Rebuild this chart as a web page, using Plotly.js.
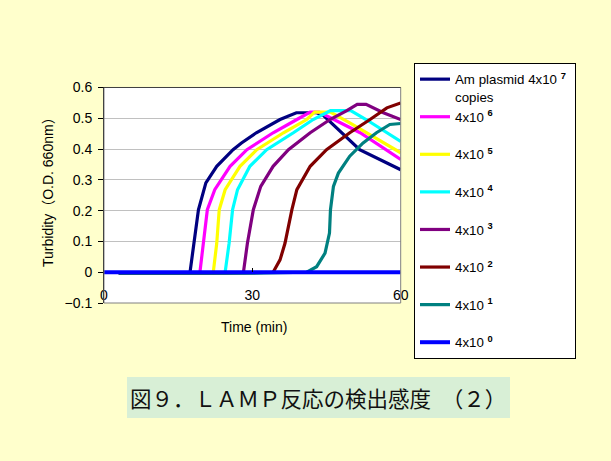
<!DOCTYPE html>
<html><head><meta charset="utf-8">
<script src="https://cdn.plot.ly/plotly-3.0.1.min.js"></script>
<style>html,body{margin:0;padding:0;background:#FFFFCC;}</style>
</head><body>
<div id="chart" style="width:611px;height:461px;"></div>
<script>
var seriesNames = ["Am plasmid 4x10 <sup><b>7</b></sup>&nbsp;<br>copies", "4x10 <sup><b>6</b></sup><br>&nbsp;", "4x10 <sup><b>5</b></sup><br>&nbsp;", "4x10 <sup><b>4</b></sup><br>&nbsp;", "4x10 <sup><b>3</b></sup><br>&nbsp;", "4x10 <sup><b>2</b></sup><br>&nbsp;", "4x10 <sup><b>1</b></sup><br>&nbsp;", "4x10 <sup><b>0</b></sup>"];
var seriesColors = ["#000080", "#FF00FF", "#FFFF00", "#00FFFF", "#800080", "#800000", "#008080", "#0000FF"];

var navyX = [3, 10, 17.4, 18.2, 19.1, 20.6, 22.8, 26.1, 27.8, 30.8, 35.6, 38.9, 43.0, 44.3, 51.7, 60];
var navyY = [-0.003, -0.003, 0, 0.094, 0.203, 0.29, 0.344, 0.398, 0.42, 0.453, 0.496, 0.518, 0.518, 0.51, 0.398, 0.333];
var magentaX = [3, 12, 19.4, 20.1, 20.9, 22.4, 25.5, 28.9, 34.2, 39.0, 41.7, 43.5, 46.4, 51.8, 60];
var magentaY = [-0.003, -0.003, 0, 0.094, 0.203, 0.268, 0.344, 0.398, 0.453, 0.496, 0.52, 0.52, 0.496, 0.453, 0.366];
var yellowX = [3, 15, 22.1, 22.8, 23.3, 24.5, 27.5, 30.9, 36.3, 41.0, 42.6, 45.8, 49.7, 53.0, 60];
var yellowY = [-0.003, -0.003, 0, 0.094, 0.203, 0.268, 0.344, 0.398, 0.453, 0.496, 0.52, 0.52, 0.485, 0.453, 0.388];
var cyanX = [3, 15, 24.5, 25.3, 26.0, 27.0, 29.5, 32.9, 38.3, 42.3, 45.8, 49.9, 53.0, 57.2, 60];
var cyanY = [-0.003, -0.003, 0, 0.094, 0.203, 0.268, 0.344, 0.398, 0.453, 0.496, 0.525, 0.525, 0.496, 0.453, 0.425];
var purpleX = [3, 20, 28.2, 29.0, 30.2, 31.7, 34.2, 37.3, 41.7, 45.7, 49.1, 51.2, 53.0, 56.5, 60];
var purpleY = [-0.003, -0.003, 0, 0.094, 0.203, 0.279, 0.344, 0.398, 0.453, 0.496, 0.525, 0.545, 0.545, 0.518, 0.496];
var redX = [3, 25, 34.2, 35.6, 36.6, 38.0, 39.0, 41.7, 45.0, 49.7, 53.8, 57.2, 60];
var redY = [-0.003, -0.003, 0, 0.04, 0.094, 0.203, 0.268, 0.344, 0.398, 0.453, 0.496, 0.534, 0.55];
var tealX = [3, 30, 41.0, 43.0, 44.7, 45.6, 45.8, 46.4, 47.4, 49.7, 52.4, 55.1, 57.8, 60];
var tealY = [-0.003, -0.003, 0, 0.018, 0.062, 0.127, 0.203, 0.279, 0.322, 0.377, 0.42, 0.453, 0.48, 0.483];
var blueX = [0, 15, 30, 45, 60];
var blueY = [0, 0, 0, 0, 0];

var xTickVals = [0, 30, 60];
var xTickText = ["0", "30", "60"];
var yTickVals = [-0.1, 0, 0.1, 0.2, 0.3, 0.4, 0.5, 0.6];
var yTickText = ["\u22120.1", "0", "0.1", "0.2", "0.3", "0.4", "0.5", "0.6"];

var xs = [navyX, magentaX, yellowX, cyanX, purpleX, redX, tealX, blueX];
var ys = [navyY, magentaY, yellowY, cyanY, purpleY, redY, tealY, blueY];

var traces = xs.map(function(x, i){
  return {x: x, y: ys[i], type: "scatter", mode: "lines", name: seriesNames[i],
    line: {color: seriesColors[i], width: i === 7 ? 4 : 3.2}, cliponaxis: true};
});

var font = "Liberation Sans, Arial, Noto Sans CJK JP, sans-serif";
var yDom = [0.3427, 0.8102];
var xAxisPos = yDom[0] + (yDom[1] - yDom[0]) * (0.1 / 0.7);

var layout = {
  width: 611, height: 461,
  margin: {l: 0, r: 0, t: 0, b: 0},
  paper_bgcolor: "#FFFFCC", plot_bgcolor: "#FFFFFF",
  showlegend: true,
  font: {family: font, size: 14, color: "#000"},
  xaxis: {domain: [0.1702, 0.6558], range: [0, 60], anchor: "free", position: xAxisPos,
    tickvals: xTickVals, ticktext: xTickText, ticks: "inside", ticklen: 4, tickcolor: "#000",
    showgrid: false, zeroline: false, showline: false, ticklabelstandoff: 13,
    tickfont: {family: font, size: 14, color: "#000"}},
  yaxis: {domain: yDom, range: [-0.1, 0.6], tickvals: yTickVals, ticktext: yTickText,
    ticks: "outside", ticklen: 5, tickcolor: "#000", showline: true, linecolor: "#000", linewidth: 1,
    showgrid: true, gridcolor: "#C0C0C0", gridwidth: 1, zeroline: false, ticklabelstandoff: 3,
    tickfont: {family: font, size: 14, color: "#000"}},
  legend: {x: 414/611, y: 1 - 63/461, xanchor: "left", yanchor: "top", bgcolor: "#FFFFFF",
    bordercolor: "#000", borderwidth: 1, valign: "top", tracegroupgap: 0,
    font: {family: font, size: 13.3, color: "#000"}},
  shapes: [
    {type: "rect", xref: "x domain", yref: "y domain", x0: 0, x1: 1, y0: 0, y1: 1,
      line: {color: "#808080", width: 1}, layer: "above"},
    {type: "line", xref: "x domain", yref: "y domain", x0: 0, x1: 1, y0: 1, y1: 1,
      line: {color: "#404040", width: 1}, layer: "above"},
    {type: "rect", xref: "paper", yref: "paper", x0: 127/611, x1: 510/611, y0: 1 - 418/461, y1: 1 - 377/461,
      fillcolor: "#D8EFD6", line: {width: 0}, layer: "below"}
  ],
  annotations: [
    {text: "Turbidity\uFF08O.D. 660nm\uFF09", textangle: -90, xref: "paper", yref: "paper",
      x: 48/611, y: 1 - 189/461, xanchor: "center", yanchor: "middle", showarrow: false,
      font: {family: font, size: 14, color: "#000"}},
    {text: "Time (min)", xref: "paper", yref: "paper", x: 254/611, y: 1 - 327/461,
      xanchor: "center", yanchor: "middle", showarrow: false,
      font: {family: font, size: 14, color: "#000"}},
    {text: "\u56F3\uFF19\uFF0E\uFF2C\uFF21\uFF2D\uFF30\u53CD\u5FDC\u306E\u691C\u51FA\u611F\u5EA6\u3000\uFF08\uFF12\uFF09",
      xref: "paper", yref: "paper", x: 318/611, y: 1 - 397/461, xanchor: "center", yanchor: "middle",
      showarrow: false,
      font: {family: "Noto Sans CJK JP, sans-serif", size: 21.5, color: "#111"}}
  ]
};

Plotly.newPlot("chart", traces, layout, {displayModeBar: false, staticPlot: true});
</script>
</body></html>
